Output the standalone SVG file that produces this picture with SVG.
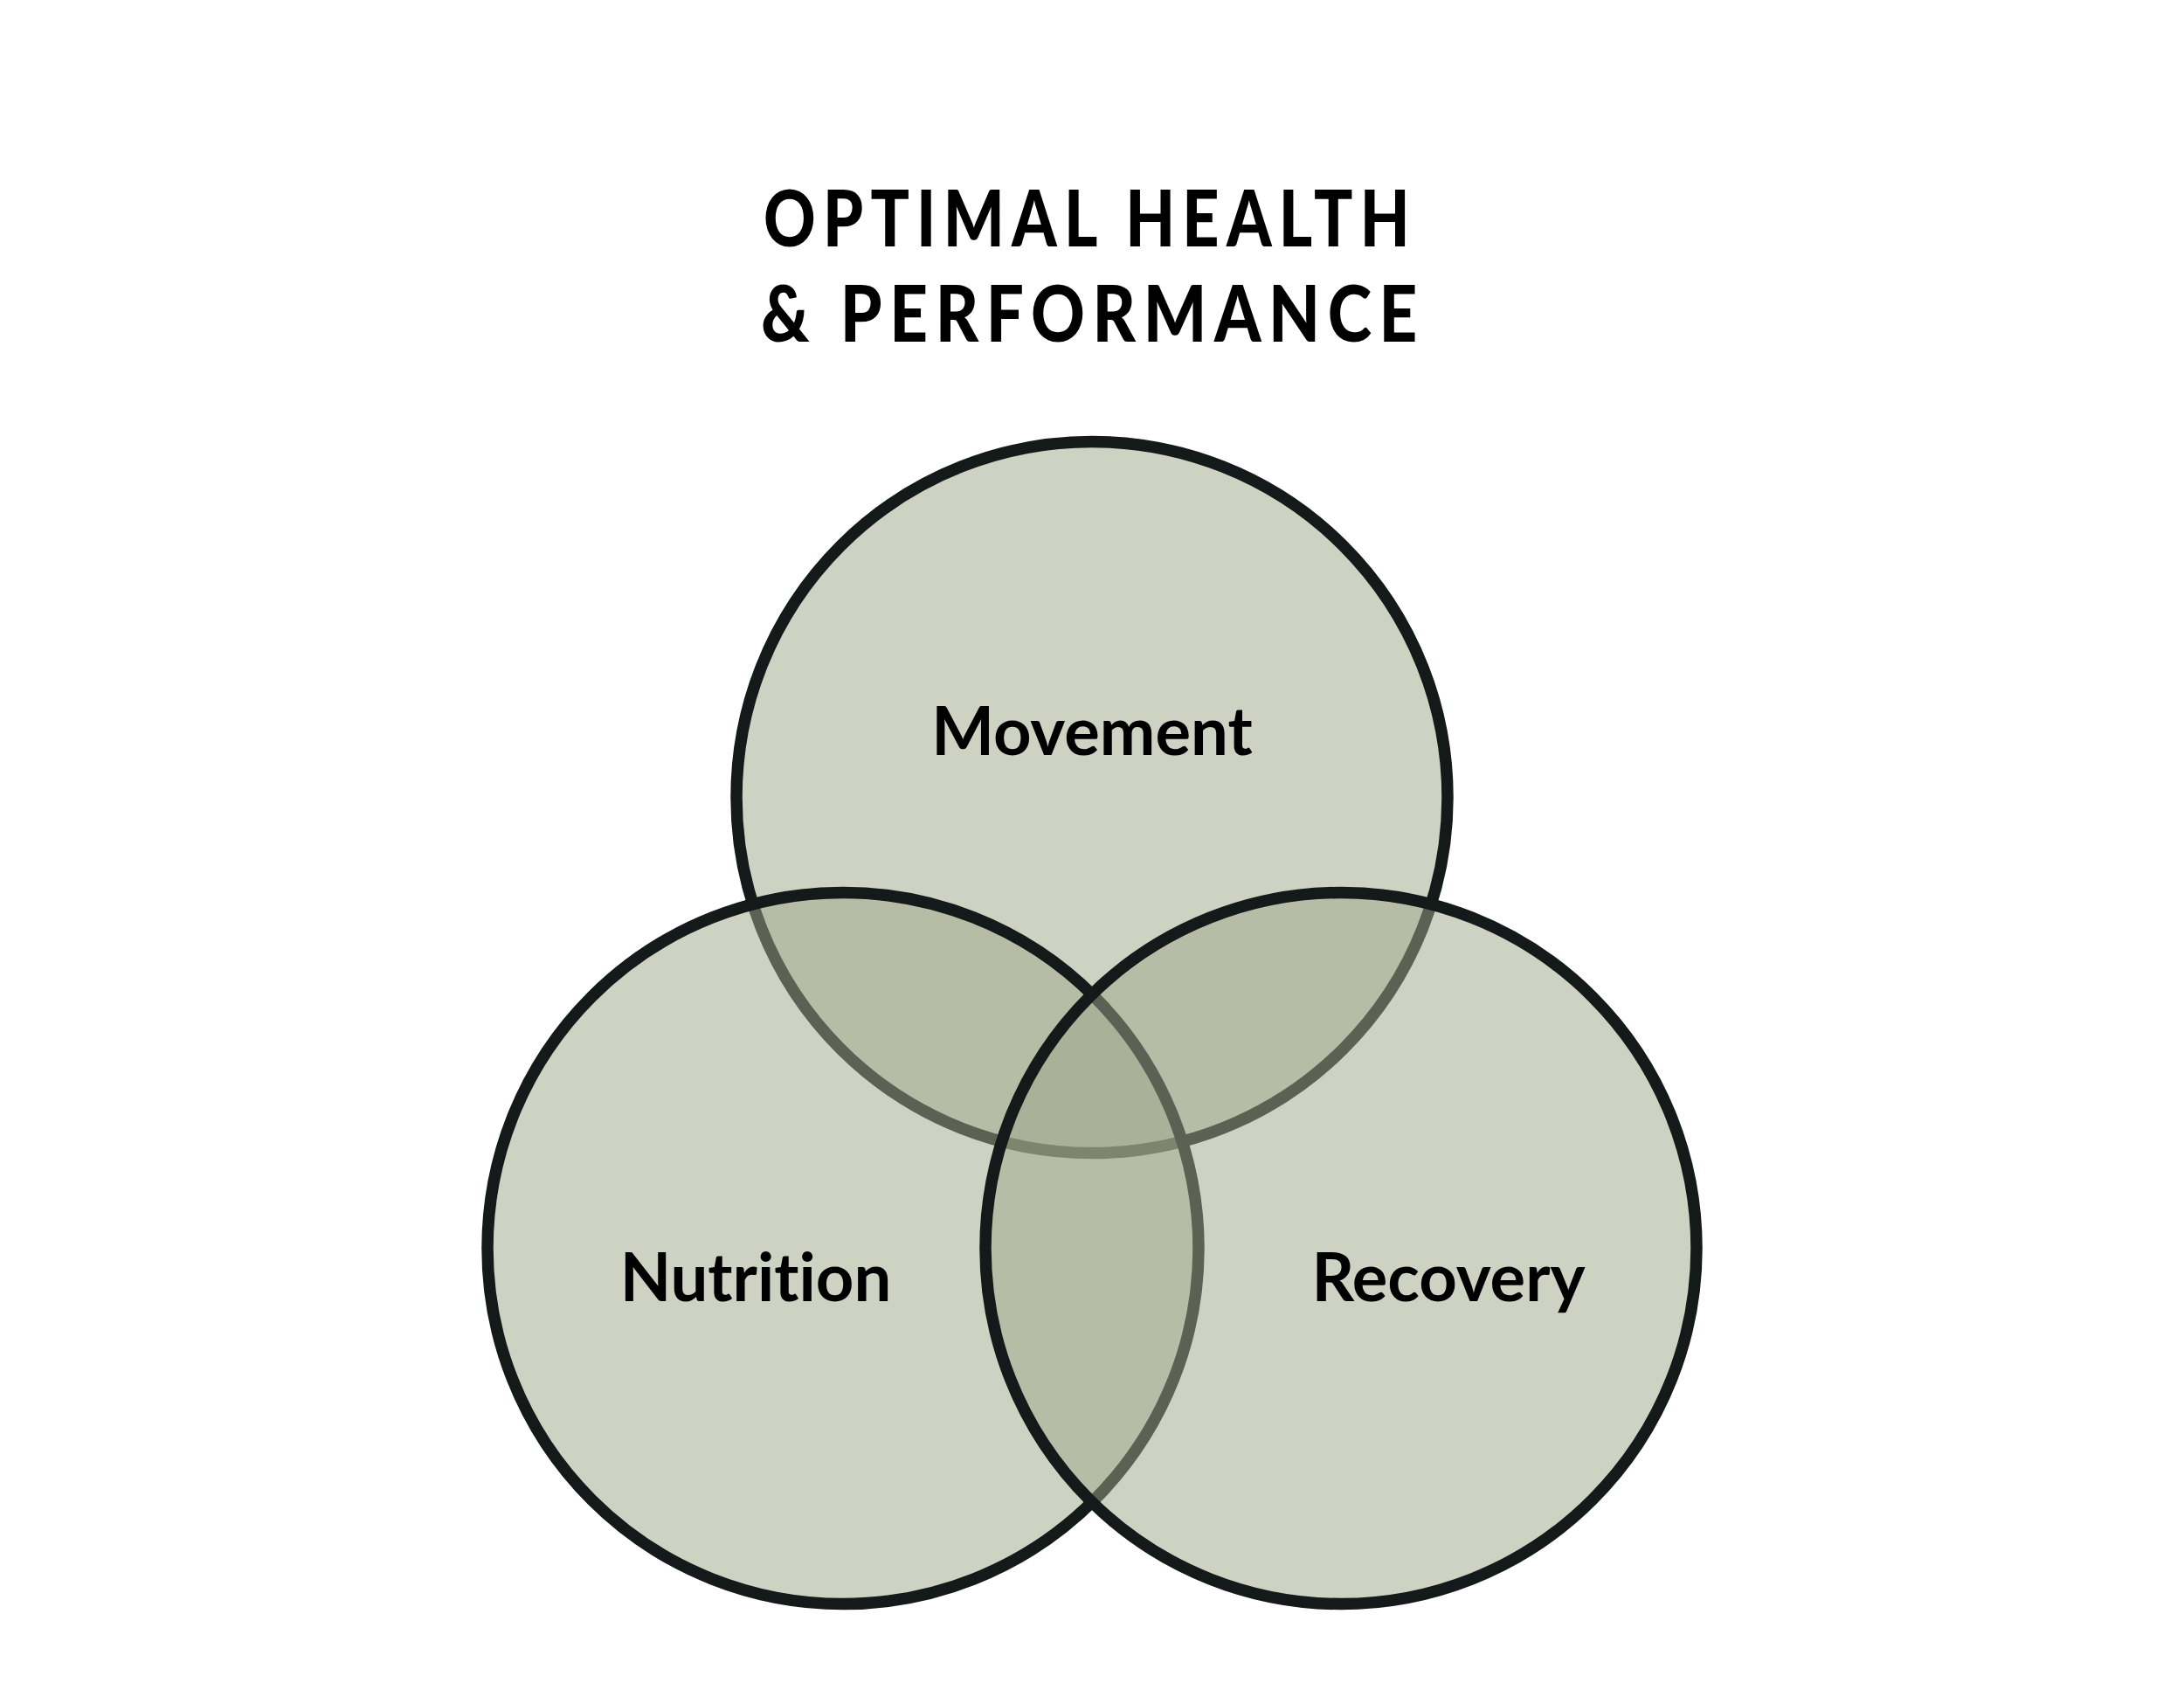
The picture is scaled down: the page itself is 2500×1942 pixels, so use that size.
<svg xmlns="http://www.w3.org/2000/svg" width="2500" height="1942" viewBox="0 0 2500 1942">
<style>
.c{fill:#a0a88b;fill-opacity:0.515;stroke:#141a1a;stroke-width:13.5}
.t{font-family:Lato,"Noto Sans",sans-serif;font-weight:700;fill:#000;font-variant-ligatures:none;font-feature-settings:"liga" 0,"clig" 0}
.h{font-size:89px;letter-spacing:10px;font-weight:900}
.l{font-size:76px;text-anchor:middle}
</style>
<rect width="2500" height="1942" fill="#ffffff"/>
<g id="title">
<text class="t h" x="874" y="282" textLength="748" lengthAdjust="spacingAndGlyphs">OPTIMAL HEALTH</text>
<text class="t h" x="871" y="391" textLength="760" lengthAdjust="spacingAndGlyphs">&amp; PERFORMANCE</text>
</g>
<g id="movement">
<circle class="c" cx="1250" cy="912.5" r="407"/>
<text class="t l" x="1250" y="864">Movement</text>
</g>
<g id="nutrition">
<circle class="c" cx="965" cy="1428.5" r="407"/>
<text class="t l" x="865" y="1489">Nutrition</text>
</g>
<g id="recovery">
<circle class="c" cx="1535" cy="1428.5" r="407"/>
<text class="t l" x="1658" y="1489">Recovery</text>
</g>
<g id="connectors"></g>
</svg>
